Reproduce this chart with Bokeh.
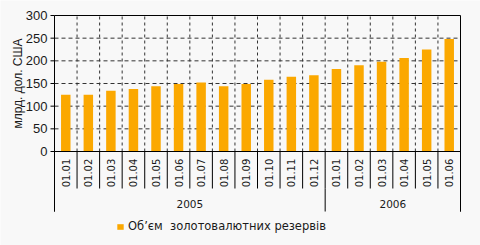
import math
from bokeh.plotting import figure
from bokeh.models import Legend, LegendItem, Range1d
from bokeh.embed import file_html
from bokeh.resources import INLINE
from bokeh.core.properties import value

# ---- data ----
months = ["01.01", "01.02", "01.03", "01.04", "01.05", "01.06",
          "01.07", "01.08", "01.09", "01.10", "01.11", "01.12",
          "01.01", "01.02", "01.03", "01.04", "01.05", "01.06"]
years = ["2005", "2006"]
year_counts = [12, 6]
reserves = [125, 125, 134, 138, 144, 149, 152, 144, 149, 158, 165, 168,
            182, 190, 198, 206, 225, 248]
y_ticks = [0, 50, 100, 150, 200, 250, 300]
y_tick_labels = [str(t) for t in y_ticks]
series_name = "Об’єм\u00a0 золотовалютних резервів"
y_title = "млрд. дол. США"

# ---- layout (pixel geometry of the canvas) ----
W, H = 480, 245
BG = "#f8f8f8"
BAR = "#FBA800"
INK = "#1a1a1a"
GRID = "#333333"
n = len(reserves)
xs = list(range(1, n + 1))
ymax = y_ticks[-1]
left_px, right_px = 54.0, 460.0      # x=0.5 and x=n+0.5
top_px, zero_px = 15.0, 151.0        # y=ymax and y=0
sx = (right_px - left_px) / n        # px per category
sy = (zero_px - top_px) / ymax       # px per unit
x_start = 0.5 - left_px / sx
x_end = x_start + W / sx
y_top = ymax + top_px / sy
y_bot = y_top - H / sy


def X(px):
    return x_start + px / sx


def Y(py):
    return y_top - py / sy


p = figure(width=W, height=H, x_range=Range1d(x_start, x_end), y_range=Range1d(y_bot, y_top),
           output_backend="svg", toolbar_location=None,
           x_axis_location=None, y_axis_location=None, min_border=0)
p.background_fill_color = BG
p.border_fill_color = BG
p.outline_line_color = None
p.grid.visible = False

x0, x1 = 0.5, n + 0.5
sep_bottom = Y(188)
lab_bottom = Y(211)

# horizontal dashed grid
grid_ticks = y_ticks[1:-1]
p.segment(x0=[x0] * len(grid_ticks), y0=grid_ticks, x1=[x1] * len(grid_ticks), y1=grid_ticks,
          line_color=GRID, line_dash="4 3", line_width=1)
# vertical dashed grid
bounds = [i + 0.5 for i in range(1, n)]
p.segment(x0=bounds, y0=[0] * len(bounds), x1=bounds, y1=[ymax] * len(bounds),
          line_color=GRID, line_dash="3 3", line_width=1)

bars = p.vbar(x=xs, top=reserves, bottom=0, width=0.42, fill_color=BAR, line_color=None)

# separators between month labels
p.segment(x0=bounds, y0=[0] * len(bounds), x1=bounds, y1=[sep_bottom] * len(bounds),
          line_color="black", line_width=1)
# year separators
ybounds = [0.5]
for c in year_counts:
    ybounds.append(ybounds[-1] + c)
p.segment(x0=ybounds, y0=[sep_bottom] * len(ybounds), x1=ybounds, y1=[lab_bottom] * len(ybounds),
          line_color="black", line_width=1)

# frame lines: left axis, right border, top border, zero line
p.segment(x0=[x0, x1, x0, x0], y0=[lab_bottom, lab_bottom, ymax, 0],
          x1=[x0, x1, x1, x1], y1=[ymax, ymax, ymax, 0],
          line_color="black", line_width=1)

# y ticks and labels
p.segment(x0=[X(left_px - 4)] * len(y_ticks), y0=y_ticks, x1=[x0] * len(y_ticks), y1=y_ticks,
          line_color="black", line_width=1)
p.text(x=[X(left_px - 7)] * len(y_ticks), y=y_ticks, text=y_tick_labels,
       text_align="right", text_baseline="middle",
       text_font=value("Liberation Sans"), text_font_size="13px", text_color=INK)
# y title
p.text(x=[X(17)], y=[ymax / 2], text=[y_title], angle=math.pi / 2,
       text_align="center", text_baseline="middle",
       text_font=value("Liberation Sans"), text_font_size="12px", text_color=INK)

# month labels
p.text(x=xs, y=[Y(172.5)] * n, text=months, angle=math.pi / 2,
       text_align="center", text_baseline="middle",
       text_font=value("DejaVu Sans"), text_font_size="10px", text_color=INK)
# year labels
ycent = [(ybounds[i] + ybounds[i + 1]) / 2 for i in range(len(years))]
p.text(x=ycent, y=[Y(203)] * len(years), text=years,
       text_align="center", text_baseline="middle",
       text_font=value("DejaVu Sans"), text_font_size="10.5px", text_color=INK)

leg = Legend(items=[LegendItem(label=series_name, renderers=[bars])],
             location=(116, 12), orientation="horizontal",
             glyph_width=8, glyph_height=7, label_standoff=4,
             label_text_font="DejaVu Sans", label_text_font_size="11.5px",
             label_text_color=INK, padding=0, margin=0, spacing=0,
             background_fill_alpha=0, border_line_alpha=0)
p.add_layout(leg)

open("out.html", "w").write(file_html(p, INLINE))
